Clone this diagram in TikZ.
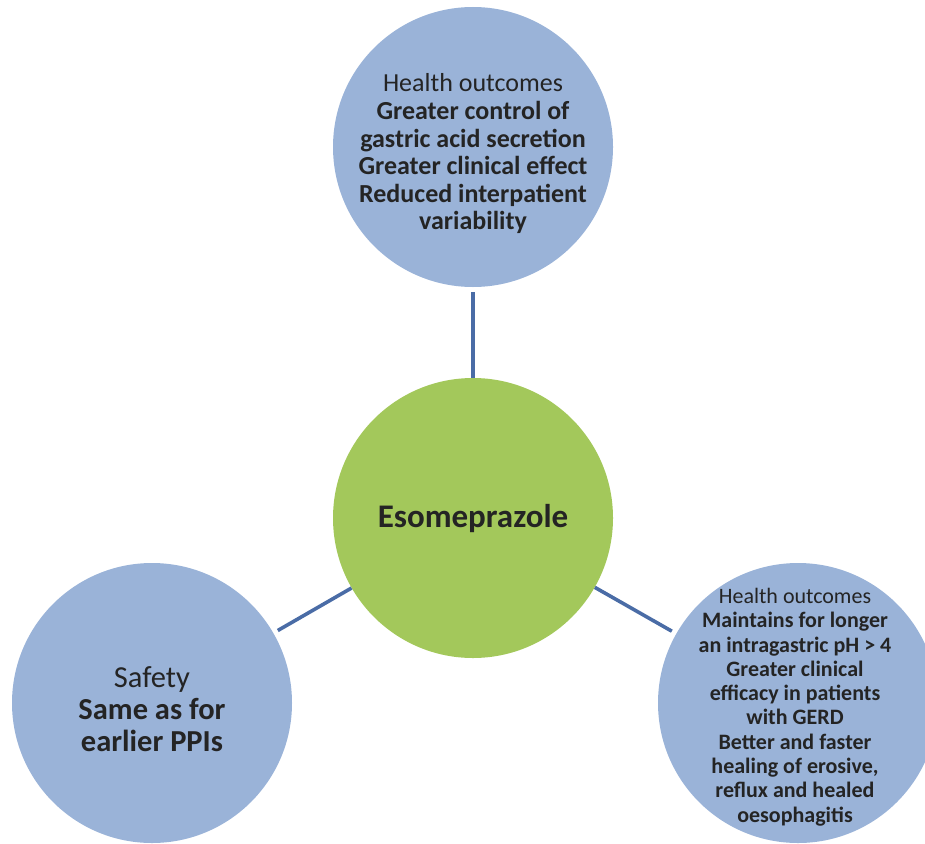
\documentclass[tikz,border=0pt]{standalone}
\usepackage{fontspec}
\setmainfont{Carlito}
\definecolor{bluefill}{HTML}{9AB3D8}
\definecolor{greenfill}{HTML}{A3C85B}
\definecolor{linec}{HTML}{4A6CA6}
\definecolor{textc}{HTML}{242424}
\begin{document}
\begin{tikzpicture}[x=1pt,y=-1pt,
  bubble/.style={circle, inner sep=0pt, minimum size=280pt, fill=bluefill, draw=none},
  hub/.style={circle, inner sep=0pt, minimum size=280pt, fill=greenfill, draw=none},
  conn/.style={draw=linec, line width=3.6pt, shorten >=5pt},
  txt/.style={align=center, text=textc, inner sep=0pt}]
\useasboundingbox (0,0) rectangle (925,843);
\begin{scope}
\clip (0,0) rectangle (925,843);
\node[hub] (hub) at (473,518) {};
\node[bubble] (top) at (473,147) {};
\node[bubble] (left) at (152,703) {};
\node[bubble] (right) at (798,703) {};
\draw[conn] (hub) -- (top);
\draw[conn] (hub) -- (left);
\draw[conn] (hub) -- (right);
\node[txt, font=\fontsize{33}{38}\selectfont\bfseries] (hubtxt) at (473,519) {Esomeprazole};
\node[txt, font=\fontsize{26}{27.6}\selectfont] (toptxt) at (473,154)
  {Health outcomes\\ \textbf{Greater control of}\\ \textbf{gastric acid secretion}\\ \textbf{Greater clinical effect}\\ \textbf{Reduced interpatient}\\ \textbf{variability}};
\node[txt, font=\fontsize{30.5}{32}\selectfont] (lefttxt) at (152,709)
  {Safety\\ \textbf{Same as for}\\ \textbf{earlier PPIs}};
\node[txt, font=\fontsize{22}{24.3}\selectfont] (righttxt) at (795,707)
  {Health outcomes\\ \textbf{Maintains for longer}\\ \textbf{an intragastric pH > 4}\\ \textbf{Greater clinical}\\ \textbf{efficacy in patients}\\ \textbf{with GERD}\\ \textbf{Better and faster}\\ \textbf{healing of erosive,}\\ \textbf{reflux and healed}\\ \textbf{oesophagitis}};
\end{scope}
\end{tikzpicture}
\end{document}
